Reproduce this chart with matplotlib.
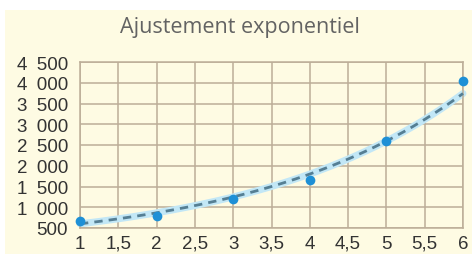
import numpy as np
import matplotlib
matplotlib.use("Agg")
import matplotlib.pyplot as plt
from matplotlib.ticker import FuncFormatter

title = "Ajustement exponentiel"
x_vals = [1, 2, 3, 4, 5, 6]
y_vals = [675, 800, 1210, 1650, 2600, 4050]
x_ticks = [1, 1.5, 2, 2.5, 3, 3.5, 4, 4.5, 5, 5.5, 6]
y_ticks = [500, 1000, 1500, 2000, 2500, 3000, 3500, 4000, 4500]

bg = "#fefbe3"
grid_c = "#bcae98"

fig = plt.figure(figsize=(4.72, 2.55), dpi=100, facecolor="white")
fig.patches.append(plt.Rectangle((0.01, 0), 0.99, 1 - 11 / 255, transform=fig.transFigure,
                                 facecolor=bg, edgecolor="none", zorder=-10))
ax = fig.add_axes([80 / 472, 1 - 229 / 255, 383 / 472, 166 / 255])
ax.set_facecolor(bg)
ax.set_xlim(1, 6)
ax.set_ylim(500, 4500)
ax.set_xticks(x_ticks)
ax.set_yticks(y_ticks)

def fmt_fr(v, pos=None):
    if float(v).is_integer():
        s = f"{int(v):,}".replace(",", "\u2002")
    else:
        s = f"{v:g}".replace(".", ",")
    return s

ax.xaxis.set_major_formatter(FuncFormatter(fmt_fr))
ax.yaxis.set_major_formatter(FuncFormatter(fmt_fr))
ax.grid(True, color=grid_c, linewidth=1.1)
ax.set_axisbelow(True)
for s in ax.spines.values():
    s.set_color(grid_c)
    s.set_linewidth(1.1)
ax.tick_params(length=0, labelsize=13.5, labelcolor="#333333")
ax.tick_params(axis="y", pad=8.5)
ax.tick_params(axis="x", pad=5)
for lab in ax.get_xticklabels() + ax.get_yticklabels():
    lab.set_family(["Liberation Sans", "DejaVu Sans"])

# exponential trend (least squares on log values)
coef = np.polyfit(x_vals, np.log(y_vals), 1)
xs = np.linspace(1, 6, 200)
ys = np.exp(np.polyval(coef, xs))
ax.plot(xs, ys, color="#c2e7f6", linewidth=5, solid_capstyle="round", zorder=2, clip_on=False)
ax.plot(xs, ys, color="#557f94", linewidth=2, dashes=(3, 2.2), zorder=3, clip_on=False)
ax.plot(x_vals, y_vals, "o", color="#1e90d6", markersize=7, zorder=4, clip_on=False,
        markeredgewidth=0)

fig.text(240 / 472, 1 - 27 / 255, title, ha="center", va="center", fontsize=15.5,
         color="#636363", family="Open Sans")

fig.savefig("out.png", dpi=100, facecolor="white")
